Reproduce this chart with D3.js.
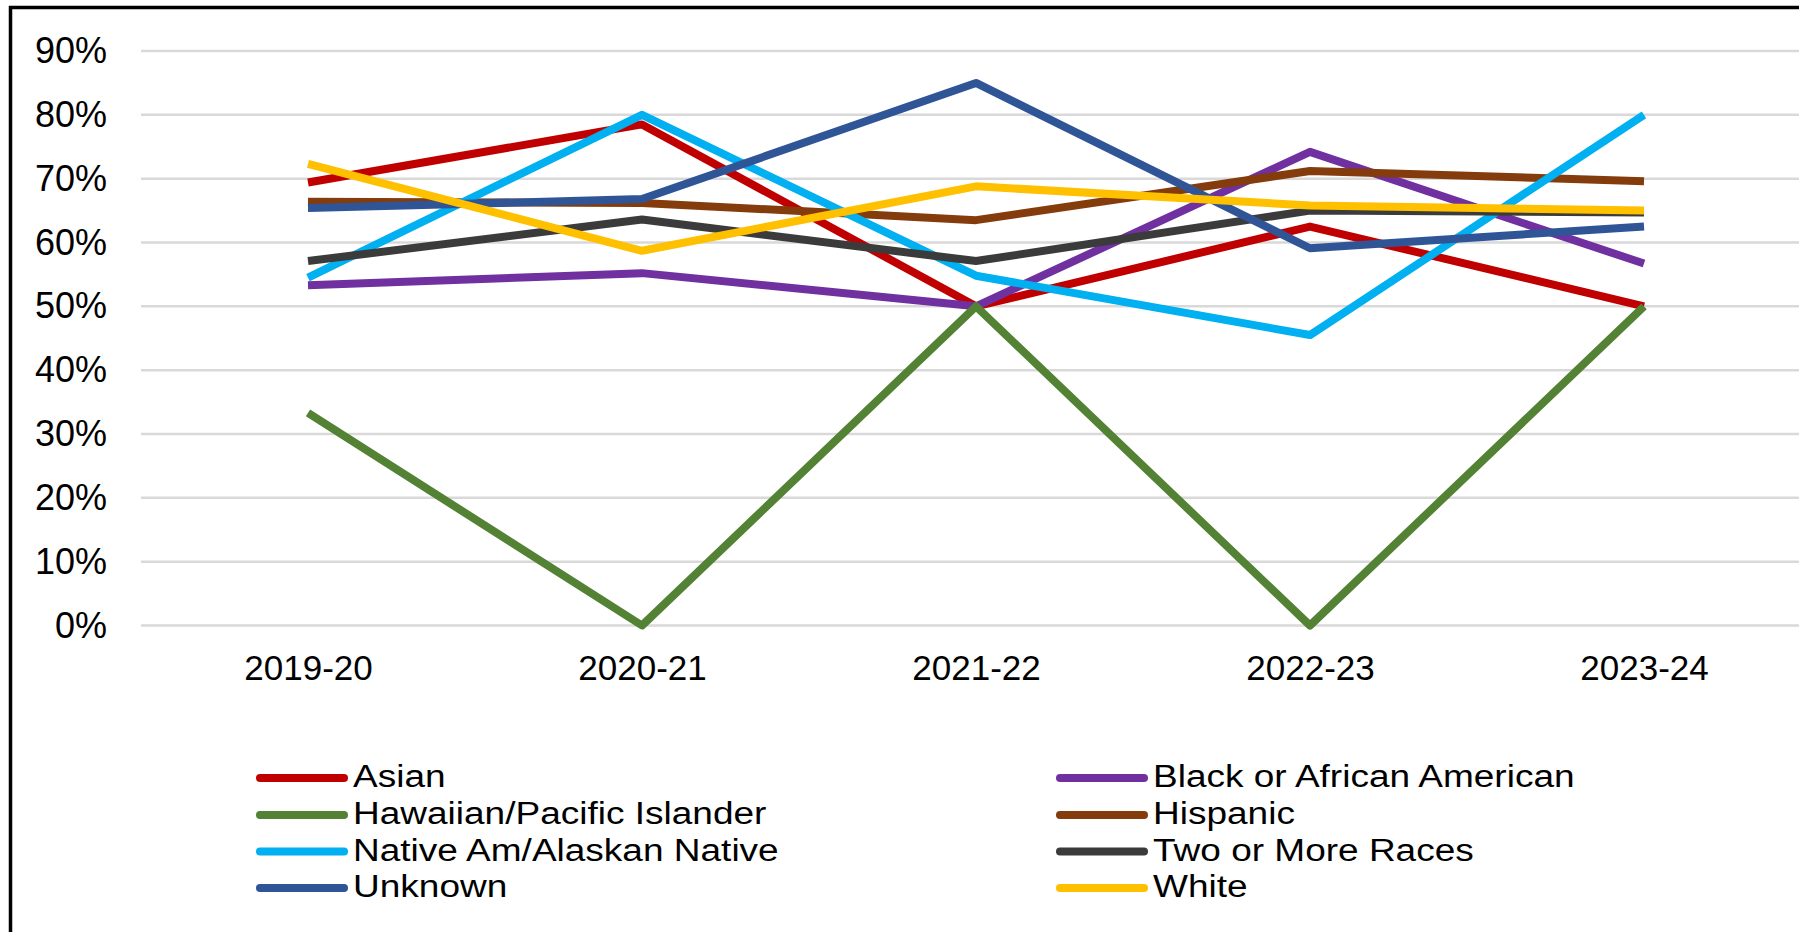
<!DOCTYPE html>
<html>
<head>
<meta charset="utf-8">
<script src="https://cdn.jsdelivr.net/npm/d3@7"></script>
<style>
  html, body { margin: 0; padding: 0; background: #fff; }
  svg { display: block; }
  text { font-family: "Liberation Sans", Arial, sans-serif; fill: #000; }
</style>
</head>
<body>
<div id="chart"></div>
<script>
// school years on the x axis
var years = ["2019-20", "2020-21", "2021-22", "2022-23", "2023-24"];

// one array per group, values in percent
var asian      = [69.4, 78.5, 50.0, 62.5, 50.0];
var black      = [53.3, 55.2, 50.0, 74.2, 56.7];
var hawaiian   = [33.3,  0.0, 50.0,  0.0, 50.0];
var hispanic   = [66.4, 66.2, 63.5, 71.2, 69.6];
var nativeAm   = [54.5, 80.0, 54.8, 45.5, 80.0];
var twoOrMore  = [57.1, 63.6, 57.1, 65.0, 64.7];
var unknown    = [65.4, 66.8, 85.0, 59.1, 62.5];
var white      = [72.3, 58.7, 68.8, 65.8, 65.0];

var seriesNames  = ["Asian", "Black or African American", "Hawaiian/Pacific Islander", "Hispanic",
                    "Native Am/Alaskan Native", "Two or More Races", "Unknown", "White"];
var seriesValues = [asian, black, hawaiian, hispanic, nativeAm, twoOrMore, unknown, white];
var seriesColors = ["#C00000", "#7030A0", "#548235", "#843C0C", "#00B0F0", "#3B3B3B", "#2F5597", "#FFC000"];

var yTicks = [0, 10, 20, 30, 40, 50, 60, 70, 80, 90];

var width = 1799,
    height = 932;

var svg = d3.select("#chart").append("svg")
    .attr("width", width)
    .attr("height", height);

// frame (only top and left edges show, the rest is cropped off)
svg.append("line")
    .attr("x1", 9).attr("x2", width)
    .attr("y1", 7.5).attr("y2", 7.5)
    .attr("stroke", "#000").attr("stroke-width", 3.5);
svg.append("line")
    .attr("x1", 10.5).attr("x2", 10.5)
    .attr("y1", 6).attr("y2", height)
    .attr("stroke", "#000").attr("stroke-width", 3.5);

var x = d3.scalePoint()
    .domain(years)
    .range([141, 1811])
    .padding(0.5);

var y = d3.scaleLinear()
    .domain([0, 90])
    .range([625.5, 51]);

// gridlines
svg.append("g")
    .selectAll("line")
    .data(yTicks)
    .enter().append("line")
    .attr("x1", 141)
    .attr("x2", 1811)
    .attr("y1", function(d) { return y(d); })
    .attr("y2", function(d) { return y(d); })
    .attr("stroke", "#D9D9D9")
    .attr("stroke-width", 2.5);

// y axis labels
var yAxis = svg.append("g")
    .attr("transform", "translate(107,0)")
    .call(d3.axisLeft(y)
        .tickValues(yTicks)
        .tickSize(0)
        .tickPadding(0)
        .tickFormat(function(d) { return d + "%"; }));
yAxis.select(".domain").remove();
yAxis.selectAll("text")
    .style("font-size", "36px")
    .style("font-family", "'Liberation Sans', Arial, sans-serif")
    .attr("fill", "#000");

// x axis labels
var xAxis = svg.append("g")
    .attr("transform", "translate(0,655)")
    .call(d3.axisBottom(x).tickSize(0).tickPadding(0));
xAxis.select(".domain").remove();
xAxis.selectAll("text")
    .style("font-size", "35px")
    .style("font-family", "'Liberation Sans', Arial, sans-serif")
    .attr("fill", "#000");

// lines
var line = d3.line()
    .x(function(d, i) { return x(years[i]); })
    .y(function(d) { return y(d); });

svg.append("g")
    .selectAll("path")
    .data(seriesValues)
    .enter().append("path")
    .attr("d", line)
    .attr("fill", "none")
    .attr("stroke", function(d, i) { return seriesColors[i]; })
    .attr("stroke-width", 8)
    .attr("stroke-linejoin", "round")
    .attr("stroke-linecap", "butt");

// legend, two columns, row-major order
var legendCols = [258, 1058];
var legendRows = [788, 825, 861.5, 898];

var legend = svg.append("g")
    .selectAll("g")
    .data(seriesNames)
    .enter().append("g")
    .attr("transform", function(d, i) {
        return "translate(" + legendCols[i % 2] + "," + legendRows[Math.floor(i / 2)] + ")";
    });

legend.append("line")
    .attr("x1", 2).attr("x2", 86)
    .attr("y1", -10).attr("y2", -10)
    .attr("stroke", function(d, i) { return seriesColors[i]; })
    .attr("stroke-width", 8)
    .attr("stroke-linecap", "round");

// rows are tight, so a smaller font stretched to the original width
legend.append("text")
    .attr("x", 95)
    .attr("y", -1)
    .style("font-size", "31px")
    .text(function(d) { return d; })
    .each(function() {
        var w = this.getComputedTextLength() * 37 / 31;
        d3.select(this)
            .attr("textLength", w)
            .attr("lengthAdjust", "spacingAndGlyphs");
    });
</script>
</body>
</html>
